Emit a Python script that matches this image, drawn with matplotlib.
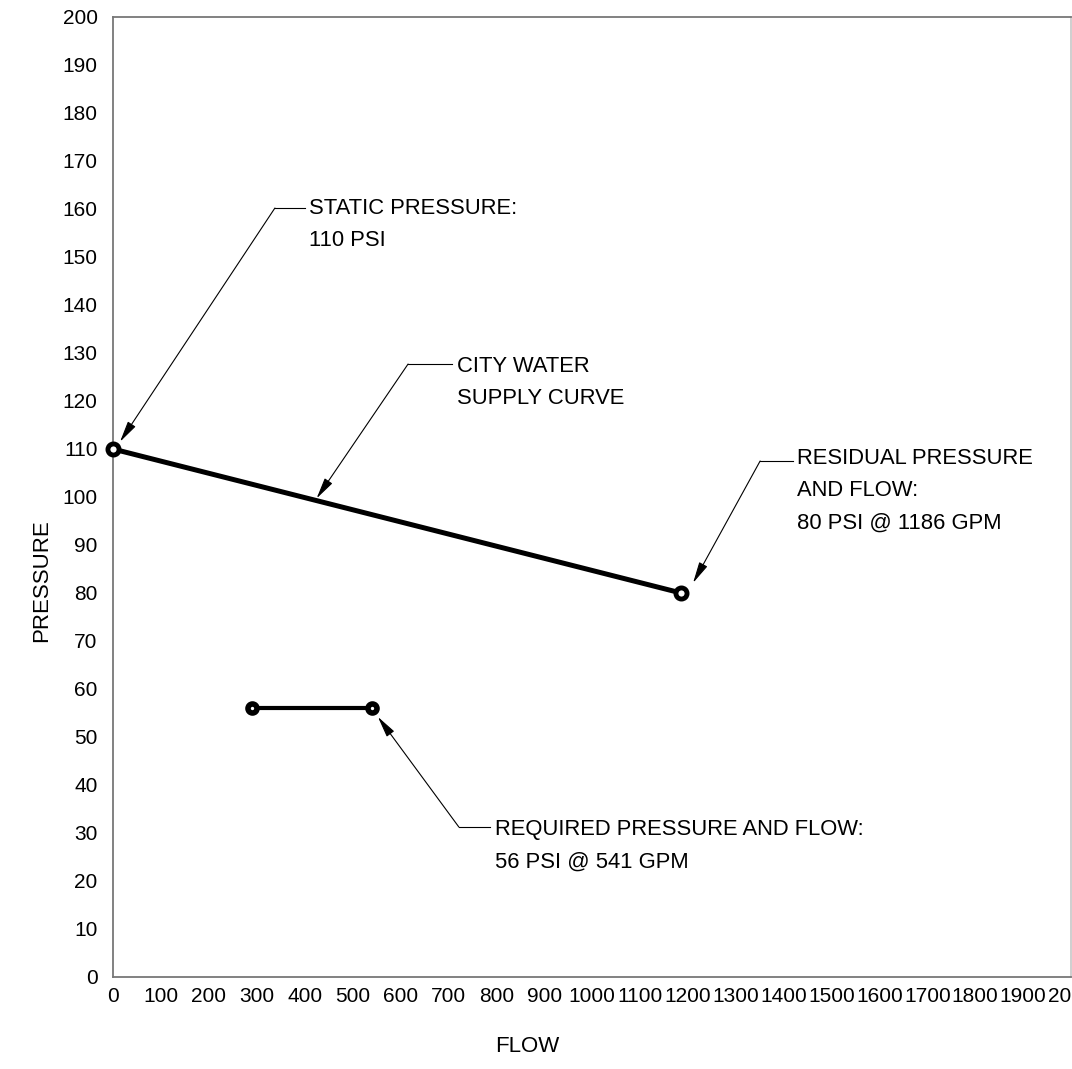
import matplotlib
matplotlib.use("Agg")
import matplotlib.pyplot as plt
import numpy as np

plt.rcParams['font.family'] = ['Liberation Sans', 'DejaVu Sans']

# ---- data ----
supply_flow = [0, 1186]
supply_pressure = [110, 80]
required_flow = [290, 541]
required_pressure = [56, 56]
x_ticks = list(range(0, 2001, 100))
y_ticks = list(range(0, 201, 10))

# annotations: text, text position (x, top y), leader knee x, leader end x, leader y, arrow tip
annotations = [
    ("STATIC PRESSURE:\n110 PSI", (409, 162.3), 338, 401, 160.2, (14.6, 111.5)),
    ("CITY WATER\nSUPPLY CURVE", (718, 129.4), 616, 708, 127.7, (425, 99.7)),
    ("RESIDUAL PRESSURE\nAND FLOW:\n80 PSI @ 1186 GPM", (1428, 110.2), 1351, 1420, 107.5, (1211, 82.1)),
    ("REQUIRED PRESSURE AND FLOW:\n56 PSI @ 541 GPM", (797, 32.9), 722, 787, 31.25, (553, 54.2)),
]

fig = plt.figure(figsize=(10.72, 10.69), dpi=100)
ax = fig.add_axes([113/1072, 92/1069, 958/1072, 960/1069])
ax.set_xlim(0, 2000)
ax.set_ylim(0, 200)

ax.plot(supply_flow, supply_pressure, color='black', lw=3.6, zorder=3,
        marker='o', ms=8, mew=3.5, mfc='white', mec='black', clip_on=False)
ax.plot(required_flow, required_pressure, color='black', lw=3, zorder=3,
        marker='o', ms=6.5, mew=4, mfc='white', mec='black', clip_on=False)

for text, (tx, ty), kx, ex, ly, tip in annotations:
    ax.text(tx, ty, text, fontsize=15.8, va='top', ha='left', linespacing=1.7)
    ax.plot([kx, ex], [ly, ly], color='black', lw=0.8, zorder=2)
    ax.annotate('', xy=tip, xytext=(kx, ly),
                arrowprops=dict(arrowstyle='-|>,head_length=0.65,head_width=0.14',
                                color='black', lw=0.8, shrinkA=0, shrinkB=0,
                                mutation_scale=20), zorder=2)

ax.set_xticks(x_ticks)
ax.set_xticklabels([str(v) for v in x_ticks])
ax.set_yticks(y_ticks)
ax.set_yticklabels([str(v) for v in y_ticks])
ax.tick_params(axis='both', length=0, labelsize=15)
ax.tick_params(axis='x', pad=7)
ax.tick_params(axis='y', pad=11)

for s in ax.spines.values():
    s.set_color('#777777')
    s.set_linewidth(1.3)
ax.spines['right'].set_color('#cccccc')

fig.text(527/1072, 1 - 1047/1069, 'FLOW', fontsize=16, ha='center', va='center')
fig.text(42/1072, 1 - 581/1069, 'PRESSURE', fontsize=16, ha='center', va='center', rotation=90)

fig.savefig('out.png', dpi=100)
